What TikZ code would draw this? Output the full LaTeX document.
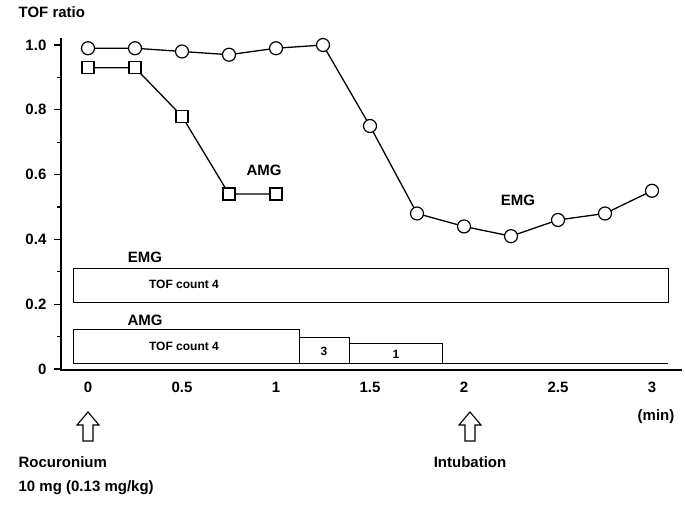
\documentclass[tikz,border=0pt]{standalone}
\usepackage{fontspec}
\setmainfont{Liberation Sans}
\begin{document}
\begin{tikzpicture}[x=1pt,y=-1pt,line width=1.3pt,
 lab/.style={font=\bfseries\fontsize{15}{17}\selectfont,inner sep=0},
 small/.style={font=\bfseries\fontsize{12}{14}\selectfont,inner sep=0},
 circ/.style={circle,draw,fill=white,minimum size=13pt,inner sep=0,line width=1.2pt},
 sq/.style={rectangle,draw,fill=white,minimum size=12pt,inner sep=0,line width=1.2pt},
 bx/.style={draw,line width=1pt}]
\useasboundingbox (0,0) rectangle (685,504);
% axes
\draw (61,38) -- (61,370) -- (682,370);
\foreach \v/\t in {0/0,0.2/0.2,0.4/0.4,0.6/0.6,0.8/0.8,1.0/1.0}{
  \pgfmathsetmacro\yy{369-\v*324}
  \draw (54,\yy) -- (61,\yy);
  \node[lab,anchor=east] (yl\t) at (47,\yy) {\t};}
\foreach \v in {0.1,0.3,0.5,0.7,0.9}{
  \pgfmathsetmacro\yy{369-\v*324}
  \draw (57,\yy) -- (61,\yy);}
\foreach \v/\t in {0/0,0.5/0.5,1/1,1.5/1.5,2/2,2.5/2.5,3/3}{
  \node[lab] (xl\t) at (88+\v*188,387) {\t};}
\node[lab] (min) at (656,417) {(min)};
\node[lab,anchor=west] (title) at (18,12) {TOF ratio};
% bars
\draw[bx] (73,268) rectangle (668,302);
\node[small] (e4) at (184,284) {TOF count 4};
\node[lab] (embl) at (145,257) {EMG};
\draw[bx] (73,329) rectangle (299,363);
\draw[bx] (299,337) rectangle (349,363);
\draw[bx] (349,343) rectangle (442,363);
\draw[bx] (442,363) -- (668,363);
\node[small] (a4) at (184,346) {TOF count 4};
\node[small] (a3) at (324,351) {3};
\node[small] (a1) at (396,354) {1};
\node[lab] (amgbl) at (145,320) {AMG};
% EMG curve
\foreach \i/\x/\v in {1/0/0.99,2/0.25/0.99,3/0.5/0.98,4/0.75/0.97,5/1/0.99,6/1.25/1.0,7/1.5/0.75,8/1.75/0.48,9/2/0.44,10/2.25/0.41,11/2.5/0.46,12/2.75/0.48,13/3/0.55}
  \coordinate (e\i) at (88+\x*188,369-\v*324);
\draw (e1)--(e2)--(e3)--(e4)--(e5)--(e6)--(e7)--(e8)--(e9)--(e10)--(e11)--(e12)--(e13);
\foreach \i in {1,...,13} \node[circ] (ce\i) at (e\i) {};
% AMG curve
\foreach \i/\x/\v in {1/0/0.93,2/0.25/0.93,3/0.5/0.78,4/0.75/0.54,5/1/0.54}
  \coordinate (m\i) at (88+\x*188,369-\v*324);
\draw (m1)--(m2)--(m3)--(m4)--(m5);
\foreach \i in {1,...,5} \node[sq] (sm\i) at (m\i) {};
\node[lab] (amgl) at (264,170) {AMG};
\node[lab] (emgl) at (518,200) {EMG};
% arrows
\foreach \n/\x in {ra/88,ia/470}{
  \draw[line width=1.1pt] (\x-5,441) -- (\x-5,425) -- (\x-11,425) -- (\x,412) -- (\x+11,425) -- (\x+5,425) -- (\x+5,441) -- cycle;
  \coordinate (\n) at (\x,412);}
\node[lab,anchor=west] (roc) at (18,462) {Rocuronium};
\node[lab,anchor=west] (dose) at (18,488) {10 mg (0.13 mg/kg)};
\node[lab] (intub) at (470,462) {Intubation};
\end{tikzpicture}
\end{document}
